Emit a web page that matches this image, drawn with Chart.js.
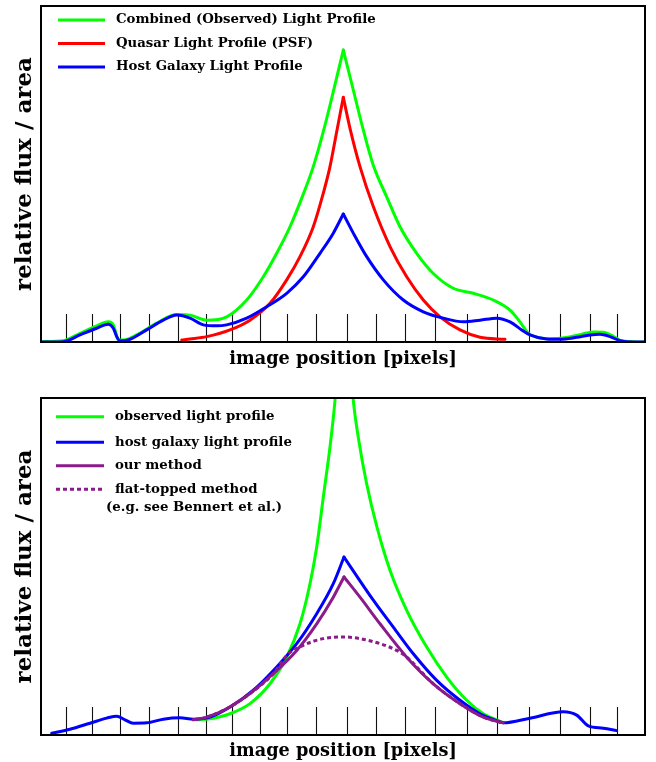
<!DOCTYPE html>
<html>
<head>
<meta charset="utf-8">
<script src="https://cdn.jsdelivr.net/npm/chart.js@4.4.1/dist/chart.umd.min.js"></script>
<style>
  html, body { margin: 0; padding: 0; background: #fff; }
  #wrap { position: relative; width: 656px; height: 762px; }
  #top { position: absolute; left: 0; top: 0; width: 656px; height: 390px; }
  #bottom { position: absolute; left: 0; top: 390px; width: 656px; height: 372px; }
</style>
</head>
<body>
<div id="wrap">
  <canvas id="top" width="656" height="390"></canvas>
  <canvas id="bottom" width="656" height="372"></canvas>
</div>
<script>
// Image positions of the detector tick marks along the bottom axis
const tickPositions = [2.5, 5.1, 7.9, 10.8, 13.7, 16.5, 19.1, 21.9, 24.6, 27.5,
                       30.6, 33.5, 36.4, 39.4, 42.6, 45.6, 48.8, 51.9, 54.9, 57.6];

// Upper panel: [position, relative flux]
const combinedTop = [[0,0.1],[2.23,0.4],[3.9,2.6],[5.57,4.8],[6.73,6.0],[7.23,5.1],[7.5,2.6],[7.73,0.6],
  [8.23,0.6],[9.57,2.1],[11.57,5.6],[13.57,8.2],[14.9,8.0],[16.57,6.5],[18.57,7.5],[20.57,12.5],
  [22.23,19.4],[23.57,26.4],[24.9,34.3],[26.23,44.0],[27.23,52.2],[28.23,62.6],[29.23,74.5],
  [30.23,86.9],[31.23,75.0],[32.23,63.1],[33.23,52.6],[34.57,43.2],[35.9,34.3],
  [37.57,26.4],[39.23,20.4],[41.23,16.0],[43.23,14.5],[45.23,12.5],[46.9,9.5],[47.9,6.0],
  [48.73,2.6],[49.5,1.5],[50.57,1.0],[51.9,1.1],[53.9,2.2],[55.23,3.0],[56.23,2.9],[57.23,1.7],
  [57.9,0.5],[59.2,0.1],[60.4,0]];
const quasarTop = [[14.07,0.6],[14.9,0.9],[16.57,1.6],[18.9,3.6],[20.9,6.5],[22.9,11.5],[24.57,18.5],
  [25.9,25.4],[27.23,34.3],[28.23,44.3],[28.9,52.2],[29.57,62.6],[30.23,72.8],
  [30.9,63.6],[31.9,52.2],[33.23,40.3],[34.9,28.4],[36.57,19.4],[38.23,12.5],[39.9,7.5],
  [41.9,3.6],[43.9,1.4],[46.4,0.8]];
const hostTop = [[0,0],[2.23,0.1],[3.9,2.1],[5.57,4.1],[6.73,5.3],[7.23,4.1],[7.57,1.6],[7.9,0.3],
  [8.9,0.8],[10.57,3.6],[12.23,6.5],[13.57,8.0],[14.9,7.1],[16.23,5.1],[17.57,4.8],[18.57,5.1],
  [20.57,7.1],[22.57,10.5],[24.57,14.5],[26.23,19.4],[27.9,26.4],[29.23,32.4],[30.23,38.1],
  [31.23,32.4],[32.57,25.4],[34.23,18.5],[36.23,12.5],[38.23,9.0],[40.23,7.1],
  [42.23,6.0],[43.9,6.5],[45.57,7.1],[46.9,6.0],[48.07,3.6],[48.9,2.1],[50.57,0.9],[51.9,0.8],
  [53.57,1.4],[54.9,2.1],[55.9,2.3],[56.9,1.6],[57.9,0.4],[59.23,0],[60.4,0]];

// Lower panel (the observed profile runs off the top of the frame)
const observedBottom = [[15.57,4.5],[16.9,4.8],[18.9,6.3],[20.9,9.3],[22.9,15.2],[24.57,23.1],
  [25.9,33.0],[26.9,44.9],[27.57,55.8],[28.23,70.6],[28.9,85.5],[29.4,99.3],[30.3,135],
  [31.23,99.3],[31.78,87.4],[32.57,74.5],[33.57,62.0],[34.9,48.9],[36.57,37.0],[38.57,26.1],
  [40.57,17.2],[42.57,10.3],[44.23,6.3],[46.07,3.9]];
const hostBottom = [[1.07,0.5],[2.9,1.7],[4.9,3.5],[6.57,5.0],[7.57,5.6],[8.4,4.5],[9.23,3.5],
  [10.57,3.6],[12.23,4.7],[13.9,5.1],[15.23,4.7],[16.9,5.3],[18.9,8.3],[21.23,13.3],[23.57,20.2],
  [25.57,27.1],[27.57,36.0],[29.23,44.9],[30.3,52.8],[33.23,40.0],
  [35.23,32.0],[37.23,24.1],[39.57,16.2],[41.9,10.3],[43.9,6.3],[45.9,3.9],[46.23,3.6],[48.9,5.0],
  [52.23,6.9],[53.57,5.9],[54.73,2.7],[56.23,2.0],[57.57,1.3]];
const ourMethod = [[15.23,4.5],[16.57,5.3],[18.57,7.8],[20.9,12.3],[23.23,18.2],[25.57,25.1],
  [27.57,33.0],[29.23,40.9],[30.3,46.9],[31.9,40.9],[33.9,33.0],[36.57,23.1],
  [39.23,15.2],[41.9,9.3],[44.23,5.3],[46.23,3.6]];
const flatTopped = [[15.23,4.5],[16.57,5.3],[18.57,7.8],[20.9,12.3],[23.23,18.2],[24.57,23.6],
  [26.23,26.6],[28.23,28.6],[30.3,29.1],[31.9,28.6],[33.9,27.1],[35.57,25.1],[36.57,23.1],
  [39.23,15.2],[41.9,9.3],[44.23,5.3],[46.23,3.6]];

const topLabels = ['Combined (Observed) Light Profile', 'Quasar Light Profile (PSF)', 'Host Galaxy Light Profile'];
const bottomLabels = ['observed light profile', 'host galaxy light profile', 'our method', 'flat-topped method'];
const bottomNote = '(e.g. see Bennert et al.)';
const xTitle = 'image position [pixels]';
const yTitle = 'relative flux / area';

const GREEN = '#00ff00', RED = '#ff0000', BLUE = '#0000ff', PURPLE = '#8b1a8b';
const DOTS = [4, 3];
const SERIF = '"DejaVu Serif", "Liberation Serif", serif';
const toXY = arr => arr.map(([x, y]) => ({ x, y }));

// Inward tick marks along the bottom axis plus the black frame
const frame = {
  id: 'frame',
  beforeDatasetsDraw(chart, args, o) {
    const { ctx, chartArea: a, scales: { x } } = chart;
    ctx.save();
    ctx.strokeStyle = '#111';
    ctx.lineWidth = 1.1;
    x.ticks.forEach(t => {
      const px = Math.round(x.getPixelForValue(t.value)) + 0.5;
      ctx.beginPath();
      ctx.moveTo(px, a.bottom);
      ctx.lineTo(px, a.bottom - o.tickLength);
      ctx.stroke();
    });
    ctx.restore();
  },
  afterDatasetsDraw(chart) {
    const { ctx, chartArea: a } = chart;
    ctx.save();
    ctx.strokeStyle = '#000';
    ctx.lineWidth = 2;
    ctx.strokeRect(a.left, a.top, a.right - a.left, a.bottom - a.top);
    ctx.restore();
  }
};

// Key drawn inside the plot area
const lineKey = {
  id: 'lineKey',
  afterDraw(chart, args, o) {
    const ctx = chart.ctx;
    ctx.save();
    ctx.font = o.font;
    ctx.textBaseline = 'middle';
    ctx.fillStyle = '#000';
    o.items.forEach((it, i) => {
      const y = o.rows[i];
      ctx.save();
      ctx.strokeStyle = it.color;
      ctx.lineWidth = 3;
      ctx.setLineDash(it.dash || []);
      ctx.beginPath();
      ctx.moveTo(o.x0, y);
      ctx.lineTo(o.x1, y);
      ctx.stroke();
      ctx.restore();
      ctx.fillText(it.text, o.textX, y);
    });
    if (o.note) ctx.fillText(o.note.text, o.note.x, o.note.y);
    ctx.restore();
  }
};

function curve(label, data, color, order, extra) {
  return Object.assign({
    label, data: toXY(data), borderColor: color, borderWidth: 3,
    pointRadius: 0, cubicInterpolationMode: 'monotone', fill: false, order,
    capBezierPoints: false, borderJoinStyle: 'round', borderCapStyle: 'round'
  }, extra || {});
}

// A peaked profile is drawn as two flanks meeting at its maximum,
// so the summit stays a sharp cusp.
function peaked(label, data, color, order) {
  let k = 0;
  data.forEach((p, i) => { if (p[1] > data[k][1]) k = i; });
  return [curve(label, data.slice(0, k + 1), color, order),
          curve(label, data.slice(k), color, order)];
}

function scales(xHeight, titlePadBottom) {
  return {
    x: {
      type: 'linear', min: 0, max: 60.4,
      grid: { display: false }, border: { display: false },
      ticks: { display: false },
      afterBuildTicks: s => { s.ticks = tickPositions.map(v => ({ value: v })); },
      afterFit: s => { s.height = xHeight; },
      title: { display: true, text: xTitle, color: '#000',
               font: { family: SERIF, size: 17.7, weight: 'bold' },
               padding: { top: 0, bottom: titlePadBottom } }
    },
    y: {
      min: 0, max: 100,
      grid: { display: false }, border: { display: false },
      ticks: { display: false },
      afterFit: s => { s.width = 41; },
      title: { display: true, text: yTitle, color: '#000',
               font: { family: SERIF, size: 23, weight: 'bold' },
               padding: { top: 11.5, bottom: 0 } }
    }
  };
}

const common = {
  responsive: false,
  animation: false,
  events: [],
  plugins: { legend: { display: false }, tooltip: { enabled: false } }
};
const KEY_FONT = 'bold 13.3px ' + SERIF;

new Chart(document.getElementById('top'), {
  type: 'line',
  data: {
    datasets: [
      ...peaked(topLabels[0], combinedTop, GREEN, 3),
      ...peaked(topLabels[1], quasarTop, RED, 2),
      ...peaked(topLabels[2], hostTop, BLUE, 1)
    ]
  },
  options: Object.assign({}, common, {
    layout: { padding: { top: 6, right: 11, left: 0, bottom: 0 } },
    scales: scales(48, 20),
    plugins: Object.assign({}, common.plugins, {
      frame: { tickLength: 28 },
      lineKey: {
        font: KEY_FONT, x0: 58, x1: 105, textX: 116, rows: [20, 43.5, 67],
        items: [{ text: topLabels[0], color: GREEN }, { text: topLabels[1], color: RED },
                { text: topLabels[2], color: BLUE }]
      }
    })
  }),
  plugins: [frame, lineKey]
});

new Chart(document.getElementById('bottom'), {
  type: 'line',
  data: {
    datasets: [
      ...peaked(bottomLabels[0], observedBottom, GREEN, 4),
      ...peaked(bottomLabels[1], hostBottom, BLUE, 3),
      ...peaked(bottomLabels[2], ourMethod, PURPLE, 2),
      curve(bottomLabels[3], flatTopped, PURPLE, 1, { borderDash: DOTS, borderCapStyle: 'butt' })
    ]
  },
  options: Object.assign({}, common, {
    layout: { padding: { top: 8, right: 11, left: 0, bottom: 0 } },
    scales: scales(27, 0),
    plugins: Object.assign({}, common.plugins, {
      frame: { tickLength: 28 },
      lineKey: {
        font: KEY_FONT, x0: 56, x1: 104, textX: 115, rows: [26.7, 52.3, 75.7, 99.3],
        items: [{ text: bottomLabels[0], color: GREEN }, { text: bottomLabels[1], color: BLUE },
                { text: bottomLabels[2], color: PURPLE }, { text: bottomLabels[3], color: PURPLE, dash: DOTS }],
        note: { text: bottomNote, x: 106, y: 117.3 }
      }
    })
  }),
  plugins: [frame, lineKey]
});
</script>
</body>
</html>
